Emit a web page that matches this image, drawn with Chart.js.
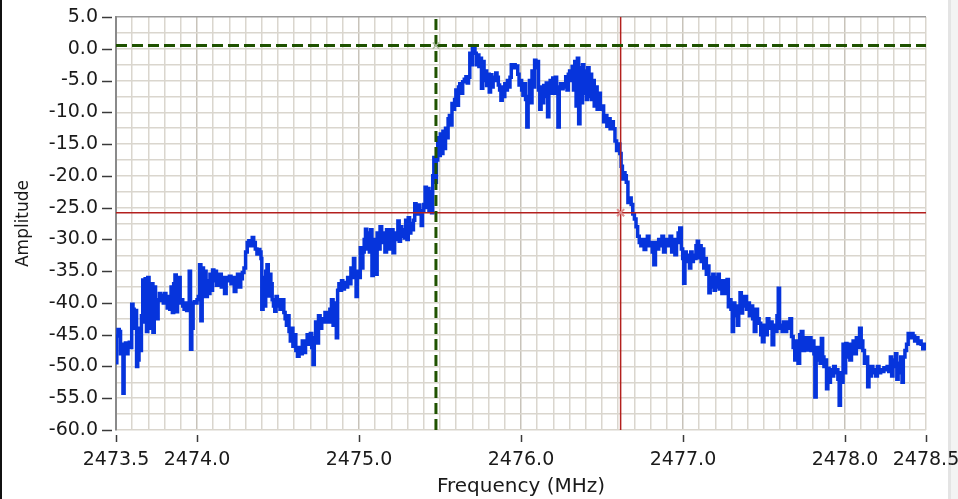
<!DOCTYPE html>
<html>
<head>
<meta charset="utf-8">
<script src="https://cdn.jsdelivr.net/npm/chart.js@4.4.1/dist/chart.umd.min.js"></script>
<style>
  html, body { margin: 0; padding: 0; }
  body {
    width: 958px; height: 499px; overflow: hidden;
    background: linear-gradient(to right, #111 0px, #111 2px, #fff 2px, #fff 948px, #e4e4e4 948px, #e4e4e4 951px, #f3f3f3 951px);
  }
  canvas { display: block; }
</style>
</head>
<body>
<canvas id="c" width="958" height="499"></canvas>
<script>
// ---------- data ----------
const xTickLabels = [2473.5, 2474.0, 2475.0, 2476.0, 2477.0, 2478.0, 2478.5];
const yTickLabels = [5, 0, -5, -10, -15, -20, -25, -30, -35, -40, -45, -50, -55, -60];
const xRange = [2473.5, 2478.5];
const yRange = [-60, 5];
const xGridStep = 0.1;
const yGridStep = 2.5;

// cursors [frequency MHz, amplitude]
const cursorGreen = [2475.475, 0.5];
const cursorRed = [2476.615, -25.8];

// spectrum trace: [frequency MHz, amplitude]
const trace = [
  [2473.500,-49.4],[2473.505,-45.2],[2473.512,-44.2],[2473.520,-44.5],[2473.528,-48.0],[2473.535,-46.5],[2473.543,-54.2],[2473.550,-47.0],[2473.558,-46.3],[2473.566,-48.0],
  [2473.574,-46.5],[2473.582,-46.2],[2473.590,-47.0],[2473.597,-40.2],[2473.605,-41.0],[2473.612,-44.0],[2473.620,-41.2],[2473.627,-50.0],[2473.634,-49.0],[2473.642,-44.0],
  [2473.650,-47.5],[2473.657,-42.0],[2473.665,-36.4],[2473.672,-43.0],[2473.680,-36.2],[2473.688,-44.5],[2473.696,-36.0],[2473.704,-40.0],[2473.712,-44.0],[2473.720,-37.0],
  [2473.728,-44.6],[2473.736,-37.5],[2473.744,-40.5],[2473.752,-42.5],[2473.760,-39.5],[2473.768,-38.5],[2473.776,-39.6],[2473.784,-38.8],[2473.792,-40.0],[2473.800,-38.5],
  [2473.808,-39.5],[2473.816,-40.8],[2473.824,-39.0],[2473.832,-41.0],[2473.840,-37.5],[2473.848,-41.5],[2473.856,-37.0],[2473.864,-35.6],[2473.872,-41.4],[2473.880,-38.5],
  [2473.888,-36.0],[2473.896,-40.0],[2473.904,-39.5],[2473.912,-40.5],[2473.920,-41.0],[2473.928,-40.0],[2473.936,-41.2],[2473.944,-40.0],[2473.952,-35.0],[2473.960,-47.3],
  [2473.968,-44.0],[2473.976,-40.0],[2473.984,-39.8],[2473.992,-40.0],[2474.000,-39.5],[2474.008,-39.0],[2474.016,-34.0],[2474.024,-42.8],[2474.032,-34.5],[2474.040,-39.0],
  [2474.048,-35.0],[2474.056,-39.0],[2474.064,-36.5],[2474.072,-38.5],[2474.080,-35.5],[2474.088,-38.0],[2474.096,-34.8],[2474.104,-36.5],[2474.112,-35.0],[2474.120,-37.2],
  [2474.130,-36.0],[2474.140,-35.5],[2474.150,-37.5],[2474.160,-36.0],[2474.170,-38.5],[2474.180,-36.5],[2474.190,-36.0],[2474.200,-35.8],[2474.210,-37.0],[2474.220,-36.0],
  [2474.230,-38.2],[2474.240,-36.5],[2474.250,-35.5],[2474.260,-37.5],[2474.270,-36.2],[2474.280,-35.2],[2474.290,-34.5],[2474.300,-32.0],[2474.310,-30.5],[2474.320,-30.2],
  [2474.330,-31.0],[2474.341,-29.7],[2474.350,-30.5],[2474.360,-31.5],[2474.370,-32.3],[2474.380,-31.6],[2474.388,-32.0],[2474.395,-33.0],[2474.400,-41.0],[2474.408,-36.0],
  [2474.416,-40.5],[2474.424,-35.0],[2474.432,-34.0],[2474.440,-38.9],[2474.448,-35.5],[2474.456,-37.0],[2474.464,-39.5],[2474.472,-40.5],[2474.480,-41.3],[2474.488,-39.0],
  [2474.496,-40.5],[2474.504,-39.5],[2474.512,-41.0],[2474.520,-40.5],[2474.528,-39.5],[2474.536,-41.5],[2474.544,-42.5],[2474.552,-43.5],[2474.560,-42.0],[2474.568,-44.5],
  [2474.576,-46.0],[2474.584,-44.0],[2474.592,-46.8],[2474.600,-45.0],[2474.610,-47.5],[2474.620,-48.4],[2474.630,-47.0],[2474.640,-48.0],[2474.650,-46.0],[2474.660,-47.8],
  [2474.670,-46.5],[2474.680,-45.0],[2474.690,-46.5],[2474.700,-44.8],[2474.708,-47.0],[2474.716,-49.7],[2474.724,-45.5],[2474.732,-43.0],[2474.740,-46.3],[2474.750,-42.0],
  [2474.760,-44.0],[2474.770,-42.5],[2474.780,-43.0],[2474.790,-41.5],[2474.800,-42.5],[2474.810,-43.0],[2474.820,-41.0],[2474.830,-39.5],[2474.840,-43.5],[2474.850,-40.0],
  [2474.860,-45.5],[2474.868,-38.0],[2474.876,-37.0],[2474.884,-38.0],[2474.892,-36.5],[2474.900,-37.8],[2474.910,-36.8],[2474.920,-37.5],[2474.930,-36.0],[2474.940,-37.0],
  [2474.950,-34.5],[2474.958,-36.0],[2474.966,-33.0],[2474.974,-35.5],[2474.982,-39.0],[2474.990,-35.0],[2475.000,-36.0],[2475.008,-31.3],[2475.016,-34.5],[2475.024,-32.0],
  [2475.032,-30.0],[2475.040,-28.4],[2475.048,-31.5],[2475.056,-29.0],[2475.064,-32.0],[2475.072,-28.5],[2475.080,-35.7],[2475.088,-30.0],[2475.096,-32.5],[2475.104,-35.5],
  [2475.112,-29.0],[2475.120,-31.5],[2475.130,-28.0],[2475.140,-30.5],[2475.150,-29.0],[2475.160,-32.0],[2475.170,-28.5],[2475.180,-30.0],[2475.190,-31.5],[2475.200,-28.5],
  [2475.210,-32.1],[2475.220,-29.0],[2475.230,-30.0],[2475.240,-27.1],[2475.248,-30.3],[2475.256,-28.0],[2475.264,-29.5],[2475.272,-28.5],[2475.280,-29.8],[2475.288,-27.0],
  [2475.296,-30.0],[2475.304,-26.6],[2475.312,-29.0],[2475.320,-27.5],[2475.328,-28.5],[2475.336,-27.0],[2475.344,-24.4],[2475.352,-26.0],[2475.360,-25.0],[2475.368,-24.6],
  [2475.376,-26.0],[2475.384,-27.8],[2475.392,-25.5],[2475.400,-24.5],[2475.408,-21.8],[2475.416,-25.0],[2475.424,-22.0],[2475.432,-25.5],[2475.440,-22.5],[2475.448,-25.8],
  [2475.455,-20.0],[2475.462,-17.1],[2475.470,-21.0],[2475.478,-17.5],[2475.486,-14.0],[2475.494,-16.8],[2475.502,-13.4],[2475.510,-16.5],[2475.518,-13.0],[2475.526,-15.7],
  [2475.534,-12.5],[2475.542,-14.0],[2475.550,-11.0],[2475.558,-10.5],[2475.566,-12.0],[2475.574,-8.6],[2475.582,-9.5],[2475.590,-8.0],[2475.598,-6.5],[2475.606,-8.9],
  [2475.614,-6.0],[2475.622,-5.5],[2475.630,-7.0],[2475.640,-5.2],[2475.650,-4.8],[2475.660,-4.4],[2475.668,-5.4],[2475.676,-4.5],[2475.684,-0.7],[2475.692,-2.5],
  [2475.700,0.0],[2475.708,0.3],[2475.716,-0.7],[2475.724,-2.5],[2475.732,-1.0],[2475.740,-2.8],[2475.748,-1.5],[2475.756,-6.2],[2475.764,-2.0],[2475.772,-5.0],
  [2475.780,-3.5],[2475.788,-5.8],[2475.796,-4.0],[2475.804,-6.8],[2475.812,-4.1],[2475.820,-6.0],[2475.828,-4.5],[2475.836,-5.0],[2475.844,-3.8],[2475.852,-4.5],
  [2475.860,-5.7],[2475.868,-6.5],[2475.876,-8.1],[2475.884,-6.0],[2475.892,-7.5],[2475.900,-5.5],[2475.908,-6.5],[2475.916,-5.0],[2475.924,-6.0],[2475.932,-4.5],
  [2475.940,-2.5],[2475.948,-3.0],[2475.956,-2.5],[2475.964,-3.0],[2475.972,-2.7],[2475.980,-4.0],[2475.988,-5.7],[2475.996,-5.0],[2476.004,-6.5],[2476.012,-7.3],
  [2476.020,-5.5],[2476.028,-8.0],[2476.036,-12.3],[2476.044,-7.5],[2476.052,-5.0],[2476.060,-8.5],[2476.068,-3.5],[2476.076,-6.0],[2476.084,-1.8],[2476.092,-3.0],
  [2476.100,-2.0],[2476.108,-6.5],[2476.116,-9.5],[2476.124,-6.0],[2476.132,-8.5],[2476.140,-5.8],[2476.148,-7.5],[2476.156,-5.4],[2476.164,-10.7],[2476.172,-6.5],
  [2476.180,-5.0],[2476.188,-7.0],[2476.196,-4.6],[2476.204,-7.0],[2476.212,-4.5],[2476.220,-6.5],[2476.228,-12.3],[2476.236,-6.0],[2476.244,-5.5],[2476.252,-6.3],
  [2476.260,-6.0],[2476.268,-5.5],[2476.276,-4.4],[2476.284,-6.5],[2476.292,-4.0],[2476.300,-3.5],[2476.308,-5.0],[2476.316,-2.8],[2476.324,-6.5],[2476.332,-2.0],
  [2476.340,-9.0],[2476.348,-1.5],[2476.356,-11.8],[2476.364,-3.0],[2476.372,-8.5],[2476.380,-2.5],[2476.388,-7.0],[2476.396,-3.5],[2476.404,-8.0],[2476.412,-3.0],
  [2476.420,-7.5],[2476.428,-4.0],[2476.436,-8.0],[2476.444,-5.0],[2476.452,-9.0],[2476.460,-6.0],[2476.470,-9.5],[2476.480,-7.0],[2476.490,-9.5],[2476.500,-9.0],
  [2476.510,-11.5],[2476.520,-10.5],[2476.530,-12.2],[2476.540,-11.0],[2476.550,-12.6],[2476.560,-11.5],[2476.570,-12.6],[2476.580,-14.5],[2476.590,-16.0],[2476.600,-15.0],
  [2476.610,-16.5],[2476.618,-18.5],[2476.626,-20.5],[2476.634,-19.5],[2476.642,-20.0],[2476.650,-21.0],[2476.660,-24.2],[2476.670,-23.5],[2476.680,-24.5],[2476.690,-26.0],
  [2476.700,-26.8],[2476.710,-28.0],[2476.720,-29.5],[2476.730,-30.5],[2476.740,-31.0],[2476.750,-30.0],[2476.760,-31.6],[2476.770,-30.5],[2476.780,-29.5],[2476.790,-31.0],
  [2476.800,-30.5],[2476.810,-32.0],[2476.820,-34.0],[2476.830,-30.5],[2476.840,-31.5],[2476.850,-30.0],[2476.860,-31.0],[2476.870,-29.5],[2476.880,-32.0],[2476.890,-30.0],
  [2476.900,-31.0],[2476.910,-30.5],[2476.920,-29.5],[2476.930,-32.0],[2476.940,-30.0],[2476.950,-32.4],[2476.960,-30.5],[2476.970,-29.0],[2476.980,-28.2],[2476.990,-31.5],
  [2476.998,-33.0],[2477.004,-36.9],[2477.012,-32.0],[2477.020,-33.5],[2477.030,-32.5],[2477.040,-34.5],[2477.048,-32.0],[2477.056,-33.5],[2477.064,-32.5],[2477.072,-33.0],
  [2477.080,-31.0],[2477.088,-30.3],[2477.096,-32.9],[2477.104,-31.0],[2477.112,-33.5],[2477.120,-31.5],[2477.128,-34.5],[2477.136,-33.0],[2477.144,-35.5],[2477.152,-34.2],
  [2477.160,-38.4],[2477.168,-36.0],[2477.176,-37.5],[2477.184,-35.5],[2477.192,-38.0],[2477.200,-36.0],[2477.208,-37.5],[2477.216,-35.5],[2477.224,-37.8],[2477.232,-36.5],
  [2477.240,-38.5],[2477.248,-37.0],[2477.256,-36.5],[2477.264,-38.5],[2477.272,-36.3],[2477.280,-40.6],[2477.288,-39.5],[2477.296,-41.0],[2477.304,-44.5],[2477.312,-40.0],
  [2477.320,-42.0],[2477.328,-40.5],[2477.336,-43.5],[2477.344,-41.5],[2477.352,-38.4],[2477.360,-41.6],[2477.368,-39.0],[2477.376,-40.5],[2477.384,-39.0],[2477.392,-41.0],
  [2477.400,-40.0],[2477.410,-42.0],[2477.420,-40.5],[2477.430,-42.5],[2477.440,-44.5],[2477.450,-41.0],[2477.460,-42.5],[2477.470,-43.2],[2477.480,-45.0],[2477.490,-46.1],
  [2477.500,-43.5],[2477.510,-45.0],[2477.520,-42.5],[2477.530,-44.0],[2477.540,-43.0],[2477.550,-46.6],[2477.560,-43.5],[2477.570,-44.5],[2477.580,-42.0],[2477.588,-37.7],
  [2477.596,-44.0],[2477.604,-43.5],[2477.612,-44.5],[2477.620,-43.0],[2477.630,-44.5],[2477.640,-43.0],[2477.650,-44.0],[2477.660,-42.5],[2477.670,-45.3],[2477.680,-47.0],
  [2477.690,-49.0],[2477.700,-46.0],[2477.710,-49.5],[2477.720,-45.0],[2477.730,-44.5],[2477.740,-47.5],[2477.750,-45.5],[2477.760,-46.5],[2477.770,-47.4],[2477.780,-45.5],
  [2477.790,-47.5],[2477.800,-46.0],[2477.808,-48.0],[2477.814,-54.8],[2477.822,-47.0],[2477.830,-49.0],[2477.838,-47.0],[2477.846,-49.5],[2477.854,-45.6],[2477.862,-48.5],
  [2477.870,-50.0],[2477.878,-49.0],[2477.886,-53.5],[2477.894,-50.3],[2477.902,-52.5],[2477.910,-50.5],[2477.920,-51.5],[2477.930,-50.0],[2477.940,-51.0],[2477.948,-50.5],
  [2477.956,-52.0],[2477.964,-56.1],[2477.972,-51.0],[2477.980,-52.5],[2477.988,-46.5],[2477.996,-51.0],[2478.004,-46.4],[2478.012,-48.5],[2478.020,-46.5],[2478.030,-49.0],
  [2478.040,-47.0],[2478.050,-46.0],[2478.060,-48.0],[2478.070,-45.5],[2478.080,-47.0],[2478.090,-44.0],[2478.100,-46.0],[2478.110,-47.5],[2478.120,-49.5],[2478.130,-48.5],
  [2478.140,-53.2],[2478.148,-50.0],[2478.156,-51.5],[2478.164,-50.0],[2478.172,-51.0],[2478.180,-50.5],[2478.190,-51.5],[2478.200,-50.0],[2478.210,-51.0],[2478.220,-50.5],
  [2478.230,-50.8],[2478.240,-50.2],[2478.250,-50.5],[2478.260,-50.0],[2478.270,-50.8],[2478.280,-48.5],[2478.288,-51.5],[2478.296,-49.0],[2478.304,-50.0],[2478.312,-48.0],
  [2478.320,-52.0],[2478.328,-49.5],[2478.336,-51.0],[2478.344,-48.5],[2478.352,-52.5],[2478.360,-48.5],[2478.370,-47.5],[2478.380,-46.5],[2478.390,-44.8],[2478.400,-45.5],
  [2478.410,-44.8],[2478.420,-45.2],[2478.430,-46.0],[2478.440,-45.5],[2478.450,-46.4],[2478.460,-46.0],[2478.470,-46.5],[2478.480,-47.2],[2478.490,-46.5],[2478.500,-47.0]
];

// ---------- styles ----------
const FONT = 'DejaVu Sans';
const TRACE_COLOR = '#0634dc';
const GREEN = '#1f5200';
const RED = '#b3201e';
const GRID = '#dad6ce';
const GRID_MAJOR = '#c8c3ba';

const isLabeled = (v, list) => list.some(t => Math.abs(t - v) < 1e-6);

const tickMarks = {
  id: 'tickMarks',
  afterDraw(chart) {
    const { ctx, chartArea, scales } = chart;
    ctx.save();
    ctx.strokeStyle = '#3a3a3a';
    ctx.lineWidth = 1.5;
    yTickLabels.forEach(v => {
      const py = Math.round(scales.y.getPixelForValue(v)) + 0.5;
      ctx.beginPath(); ctx.moveTo(chartArea.left - 14, py); ctx.lineTo(chartArea.left - 4, py); ctx.stroke();
    });
    xTickLabels.forEach(v => {
      const px = Math.round(scales.x.getPixelForValue(v)) + 0.5;
      ctx.beginPath(); ctx.moveTo(px, chartArea.bottom + 5); ctx.lineTo(px, chartArea.bottom + 12); ctx.stroke();
    });
    ctx.restore();
  }
};

const xy = arr => arr.map(p => ({ x: p[0], y: p[1] }));

new Chart(document.getElementById('c'), {
  type: 'line',
  data: {
    datasets: [
      { data: [{ x: cursorGreen[0], y: cursorGreen[1] }], showLine: false, pointStyle: 'crossRot', pointRadius: 4.5, pointBorderColor: '#a9b99c', pointBorderWidth: 1.5, pointBackgroundColor: 'transparent' },
      { data: [{ x: cursorRed[0], y: cursorRed[1] }], showLine: false, pointStyle: 'crossRot', pointRadius: 5, pointBorderColor: '#dc8c8c', pointBorderWidth: 2, pointBackgroundColor: 'transparent' },
      { data: [{ x: xRange[0], y: cursorGreen[1] }, { x: xRange[1], y: cursorGreen[1] }], borderColor: GREEN, borderWidth: 3, borderDash: [11, 5], pointRadius: 0 },
      { data: [{ x: cursorGreen[0], y: yRange[0] }, { x: cursorGreen[0], y: yRange[1] }], borderColor: GREEN, borderWidth: 3, borderDash: [11, 5], pointRadius: 0 },
      { data: [{ x: xRange[0], y: cursorRed[1] }, { x: xRange[1], y: cursorRed[1] }], borderColor: RED, borderWidth: 1.5, pointRadius: 0 },
      { data: [{ x: cursorRed[0], y: yRange[0] }, { x: cursorRed[0], y: yRange[1] }], borderColor: RED, borderWidth: 1.5, pointRadius: 0 },
      { data: xy(trace), borderColor: TRACE_COLOR, borderWidth: 3.5, pointRadius: 0, stepped: true, borderJoinStyle: 'miter' }
    ]
  },
  options: {
    responsive: false,
    devicePixelRatio: 1,
    animation: false,
    events: [],
    layout: { padding: { left: 0, top: 17, right: 32, bottom: 0 } },
    plugins: { legend: { display: false }, tooltip: { enabled: false } },
    scales: {
      x: {
        type: 'linear', min: xRange[0], max: xRange[1],
        afterBuildTicks: s => {
          const t = [];
          for (let v = xRange[0]; v <= xRange[1] + 1e-9; v += xGridStep) t.push({ value: Math.round(v * 10) / 10 });
          s.ticks = t;
        },
        afterFit: s => { s.height = 69; s.paddingLeft = 0; s.paddingRight = 0; },
        ticks: {
          autoSkip: false, maxRotation: 0, minRotation: 0, padding: 19,
          color: '#1a1a1a', font: { family: FONT, size: 19 },
          callback: v => isLabeled(v, xTickLabels) ? v.toFixed(1) : ''
        },
        grid: {
          drawTicks: false, lineWidth: 1.5,
          color: c => { const v = c.tick.value; return Math.abs(v - Math.round(v)) < 1e-6 ? GRID_MAJOR : GRID; }
        },
        border: { display: false },
        title: { display: true, text: 'Frequency (MHz)', color: '#1a1a1a', font: { family: FONT, size: 20 }, padding: { top: 0, bottom: 0 } }
      },
      y: {
        type: 'linear', min: yRange[0], max: yRange[1],
        afterBuildTicks: s => {
          const t = [];
          for (let v = yRange[0]; v <= yRange[1] + 1e-9; v += yGridStep) t.push({ value: v });
          s.ticks = t;
        },
        afterFit: s => { s.width = 116; s.paddingTop = 0; s.paddingBottom = 0; },
        ticks: {
          autoSkip: false, padding: 18,
          color: '#1a1a1a', font: { family: FONT, size: 19 },
          callback: v => isLabeled(v, yTickLabels) ? v.toFixed(1) : ''
        },
        grid: {
          drawTicks: false, lineWidth: 1.5,
          color: c => Math.abs(c.tick.value - yRange[1]) < 1e-6 ? '#9c9c9c' : GRID
        },
        border: { display: true, color: '#8a8a8a', width: 2 },
        title: { display: true, text: 'Amplitude', color: '#1a1a1a', font: { family: FONT, size: 17 }, padding: { top: 13, bottom: 0 } }
      }
    }
  },
  plugins: [tickMarks]
});
</script>
</body>
</html>
